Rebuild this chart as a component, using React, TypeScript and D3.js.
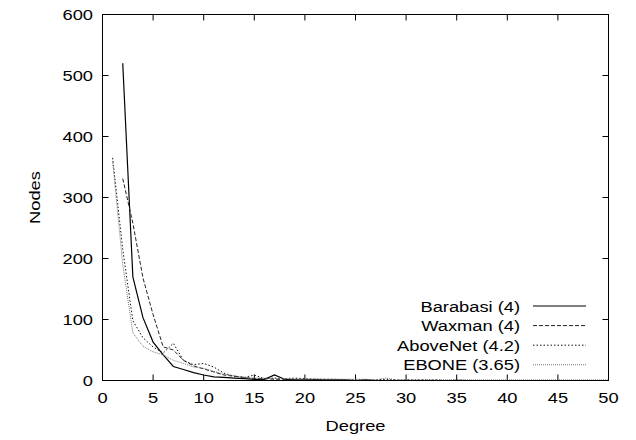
import React from "react";
import * as d3 from "d3";

const xTicks = [0, 5, 10, 15, 20, 25, 30, 35, 40, 45, 50];
const yTicks = [0, 100, 200, 300, 400, 500, 600];

// Each series: first degree, then node counts per consecutive degree
const barabasiStart = 2;
const barabasi = [520, 170, 103, 63, 42, 23, 18, 13, 9, 6, 5, 4, 3, 2, 2, 9, 2, 1, 1, 1, 1, 1, 1, 0, 1, 0, 0, 0, 0, 0, 0, 0, 0, 0, 0, 0, 0, 0, 0, 0, 0, 0, 0, 0, 0, 0, 0, 0, 0];
const waxmanStart = 2;
const waxman = [331, 258, 168, 108, 55, 50, 33, 24, 19, 14, 9, 7, 5, 3, 3, 2, 2, 1, 1, 1, 0, 1, 0, 0, 0, 0, 0, 0, 0, 0, 0, 0, 0, 0, 0, 0, 0, 0, 0, 0, 0, 0, 0, 0, 0, 0, 0, 0, 0];
const aboveNetStart = 1;
const aboveNet = [365, 215, 98, 70, 55, 45, 61, 33, 26, 28, 22, 12, 7, 5, 9, 3, 4, 3, 4, 3, 2, 2, 2, 1, 1, 1, 1, 2, 1, 1, 1, 1, 1, 0, 1, 0, 0, 0, 0, 0, 0, 0, 0, 0, 0, 0, 0, 0, 0, 0];
const eboneStart = 1;
const ebone = [360, 190, 78, 56, 47, 42, 33, 28, 22, 20, 15, 10, 8, 5, 4, 4, 3, 3, 3, 2, 3, 2, 2, 2, 2, 2, 1, 4, 1, 1, 1, 1, 1, 1, 1, 1, 1, 1, 1, 1, 1, 1, 1, 1, 1, 1, 1, 1, 1, 1];

const seriesNames = ["Barabasi (4)", "Waxman (4)", "AboveNet (4.2)", "EBONE (3.65)"];

const FONT = "'Liberation Sans', Arial, Helvetica, sans-serif";
const SX = 1.18;

function T(props: { x: number; y: number; anchor?: string; rotate?: number; children: React.ReactNode }) {
  const { x, y, anchor = "start", rotate = 0, children } = props;
  return (
    <text
      transform={`translate(${x},${y}) rotate(${rotate}) scale(${SX},1)`}
      textAnchor={anchor}
      fontSize={15.5}
      fill="#000"
    >
      {children}
    </text>
  );
}

export default function App() {
  const x = d3.scaleLinear().domain([0, 50]).range([102.5, 608.5]);
  const y = d3.scaleLinear().domain([0, 600]).range([380.5, 14.5]);
  const line = d3
    .line<[number, number]>()
    .x((d) => x(d[0]))
    .y((d) => y(d[1]));
  const toPts = (start: number, vals: number[]) =>
    vals.map((v, i) => [start + i, v] as [number, number]).filter((p) => p[0] <= 50);

  const series = [
    { name: seriesNames[0], pts: toPts(barabasiStart, barabasi), stroke: "#000", dash: undefined as string | undefined, w: 1.2 },
    { name: seriesNames[1], pts: toPts(waxmanStart, waxman), stroke: "#222", dash: "4,2", w: 1 },
    { name: seriesNames[2], pts: toPts(aboveNetStart, aboveNet), stroke: "#111", dash: "1.5,2", w: 1 },
    { name: seriesNames[3], pts: toPts(eboneStart, ebone), stroke: "#777", dash: "1,1", w: 1 },
  ];

  const [x0, x1] = x.range();
  const [yb, yt] = y.range();
  const tick = 6;

  return (
    <svg
      width={636}
      height={440}
      style={{ position: "absolute", left: 0, top: 0, background: "#fff" }}
      fontFamily={FONT}
    >
      <rect x={0} y={0} width={636} height={440} fill="#fff" />
      <defs>
        <clipPath id="plot">
          <rect x={x0} y={yt} width={x1 - x0} height={yb - yt} />
        </clipPath>
      </defs>
      {xTicks.map((t) => (
        <g key={"x" + t}>
          <line x1={x(t)} x2={x(t)} y1={yb} y2={yb - tick} stroke="#000" />
          <line x1={x(t)} x2={x(t)} y1={yt} y2={yt + tick} stroke="#000" />
          <T x={x(t)} y={403} anchor="middle">
            {t}
          </T>
        </g>
      ))}
      {yTicks.map((t) => (
        <g key={"y" + t}>
          <line x1={x0} x2={x0 + tick} y1={y(t)} y2={y(t)} stroke="#000" />
          <line x1={x1} x2={x1 - tick} y1={y(t)} y2={y(t)} stroke="#000" />
          <T x={93} y={y(t) + 5.5} anchor="end">
            {t}
          </T>
        </g>
      ))}
      <g clipPath="url(#plot)">
        {series.map((s) => (
          <path
            key={s.name}
            d={line(s.pts) || ""}
            fill="none"
            stroke={s.stroke}
            strokeWidth={s.w}
            strokeDasharray={s.dash}
          />
        ))}
      </g>
      {series.map((s, i) => {
        const ly = 306 + i * 19.6;
        return (
          <g key={"l" + s.name}>
            <T x={520} y={ly + 5.5} anchor="end">
              {s.name}
            </T>
            <line
              x1={533}
              x2={586}
              y1={ly}
              y2={ly}
              stroke={s.stroke}
              strokeWidth={s.w}
              strokeDasharray={s.dash}
            />
          </g>
        );
      })}
      <rect x={x0} y={yt} width={x1 - x0} height={yb - yt} fill="none" stroke="#000" strokeWidth={1} />
      <T x={(x0 + x1) / 2} y={430.5} anchor="middle">
        Degree
      </T>
      <T x={40} y={(yt + yb) / 2} anchor="middle" rotate={-90}>
        Nodes
      </T>
    </svg>
  );
}
